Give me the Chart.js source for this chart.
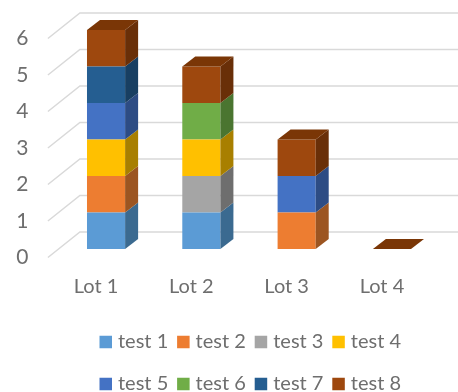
<!DOCTYPE html>
<html>
<head>
<meta charset="utf-8">
<style>html,body{margin:0;padding:0;background:#fff}canvas{display:block}</style>
<script src="https://cdn.jsdelivr.net/npm/chart.js@4"></script>
</head>
<body>
<canvas id="c" width="458" height="392"></canvas>
<script>
const lots = ['Lot 1', 'Lot 2', 'Lot 3', 'Lot 4'];
const seriesNames = ['test 1', 'test 2', 'test 3', 'test 4', 'test 5', 'test 6', 'test 7', 'test 8'];
const test1 = [1, 1, 0, 0];
const test2 = [1, 0, 1, 0];
const test3 = [0, 1, 0, 0];
const test4 = [1, 1, 0, 0];
const test5 = [1, 0, 1, 0];
const test6 = [0, 1, 0, 0];
const test7 = [1, 0, 0, 0];
const test8 = [1, 1, 1, 0];
const seriesValues = [test1, test2, test3, test4, test5, test6, test7, test8];
const frontColors = ['#5b9bd5', '#ed7d31', '#a5a5a5', '#ffc000', '#4472c4', '#70ad47', '#255e91', '#9e480e'];
const sideColors = ['#3b6a90', '#9c5521', '#6e6e6e', '#a87f00', '#2d4c84', '#4a7530', '#183f62', '#692f08'];
const topColor = '#7a3606';

const textColor = '#6e6e6e';
const gridColor = '#d9d9d9';
const fontFamily = 'Lato, sans-serif';

// Depth of a column and of the floor, in pixels
const barDepth = { dx: 13, dy: -10 };
const wallBack = { dx: 32, dy: -17 };
const wallFront = { dy: 8.5 };

function poly(ctx, pts, fill) {
  ctx.beginPath();
  pts.forEach((p, i) => i ? ctx.lineTo(p[0], p[1]) : ctx.moveTo(p[0], p[1]));
  ctx.closePath();
  ctx.fillStyle = fill;
  ctx.fill();
}

const perspective = {
  id: 'perspective',
  // Side wall diagonals and back wall lines behind the columns
  beforeDatasetsDraw(chart) {
    const { ctx, scales: { y } } = chart;
    const startX = chart.scales.x.left - 10.5;
    ctx.save();
    ctx.strokeStyle = gridColor;
    ctx.lineWidth = 1.5;
    y.ticks.forEach(t => {
      const py = y.getPixelForValue(t.value);
      ctx.beginPath();
      ctx.moveTo(startX, py + wallFront.dy);
      ctx.lineTo(startX + wallBack.dx, py + wallBack.dy);
      ctx.lineTo(chart.width, py + wallBack.dy);
      ctx.stroke();
    });
    ctx.restore();
  },
  // Side faces of every segment and the lid on each stack
  afterDatasetsDraw(chart) {
    const { ctx } = chart;
    const last = chart.data.datasets.length - 1;
    ctx.save();
    chart.data.datasets.forEach((ds, i) => {
      chart.getDatasetMeta(i).data.forEach((bar, j) => {
        const right = bar.x + bar.width / 2;
        const left = bar.x - bar.width / 2;
        if (ds.data[j] > 0) {
          poly(ctx, [
            [right, bar.y], [right + barDepth.dx, bar.y + barDepth.dy],
            [right + barDepth.dx, bar.base + barDepth.dy], [right, bar.base]
          ], sideColors[i]);
        }
        if (i === last) {
          poly(ctx, [
            [left, bar.y], [right, bar.y],
            [right + barDepth.dx, bar.y + barDepth.dy], [left + barDepth.dx, bar.y + barDepth.dy]
          ], topColor);
        }
      });
    });
    ctx.restore();
  },
  // Two-row legend beneath the axis
  afterDraw(chart) {
    const { ctx } = chart;
    const perRow = 4, startX = 99.5, pitch = 77.6, rowY = [342, 384], box = 12.5;
    ctx.save();
    ctx.font = '20px ' + fontFamily;
    ctx.textBaseline = 'middle';
    ctx.textAlign = 'left';
    chart.data.datasets.forEach((ds, i) => {
      const x = startX + (i % perRow) * pitch;
      const cy = rowY[Math.floor(i / perRow)];
      ctx.fillStyle = frontColors[i];
      ctx.fillRect(x, cy - box / 2, box, box);
      ctx.fillStyle = textColor;
      ctx.fillText(ds.label, x + box + 6, cy);
    });
    ctx.restore();
  }
};

new Chart(document.getElementById('c'), {
  type: 'bar',
  data: {
    labels: lots,
    datasets: seriesNames.map((name, i) => ({
      label: name,
      data: seriesValues[i],
      backgroundColor: frontColors[i],
      borderWidth: 0
    }))
  },
  options: {
    responsive: false,
    animation: false,
    devicePixelRatio: 1,
    layout: { padding: { top: 30, right: 18.4, bottom: 0, left: 0 } },
    plugins: { legend: { display: false }, tooltip: { enabled: false } },
    datasets: { bar: { categoryPercentage: 0.4, barPercentage: 1 } },
    scales: {
      x: {
        stacked: true,
        grid: { display: false, drawTicks: false },
        border: { display: false },
        ticks: { color: textColor, font: { family: fontFamily, size: 20 }, padding: 26, maxRotation: 0, labelOffset: -10 },
        afterFit(scale) { scale.height = 143; }
      },
      y: {
        stacked: true,
        min: 0,
        max: 6,
        grid: { display: false, drawTicks: true, tickLength: 30 },
        border: { display: false },
        ticks: { color: textColor, font: { family: fontFamily, size: 21 }, stepSize: 1, padding: 0, labelOffset: 8.5 },
        afterFit(scale) { scale.width = 58.4; }
      }
    }
  },
  plugins: [perspective]
});
</script>
</body>
</html>
